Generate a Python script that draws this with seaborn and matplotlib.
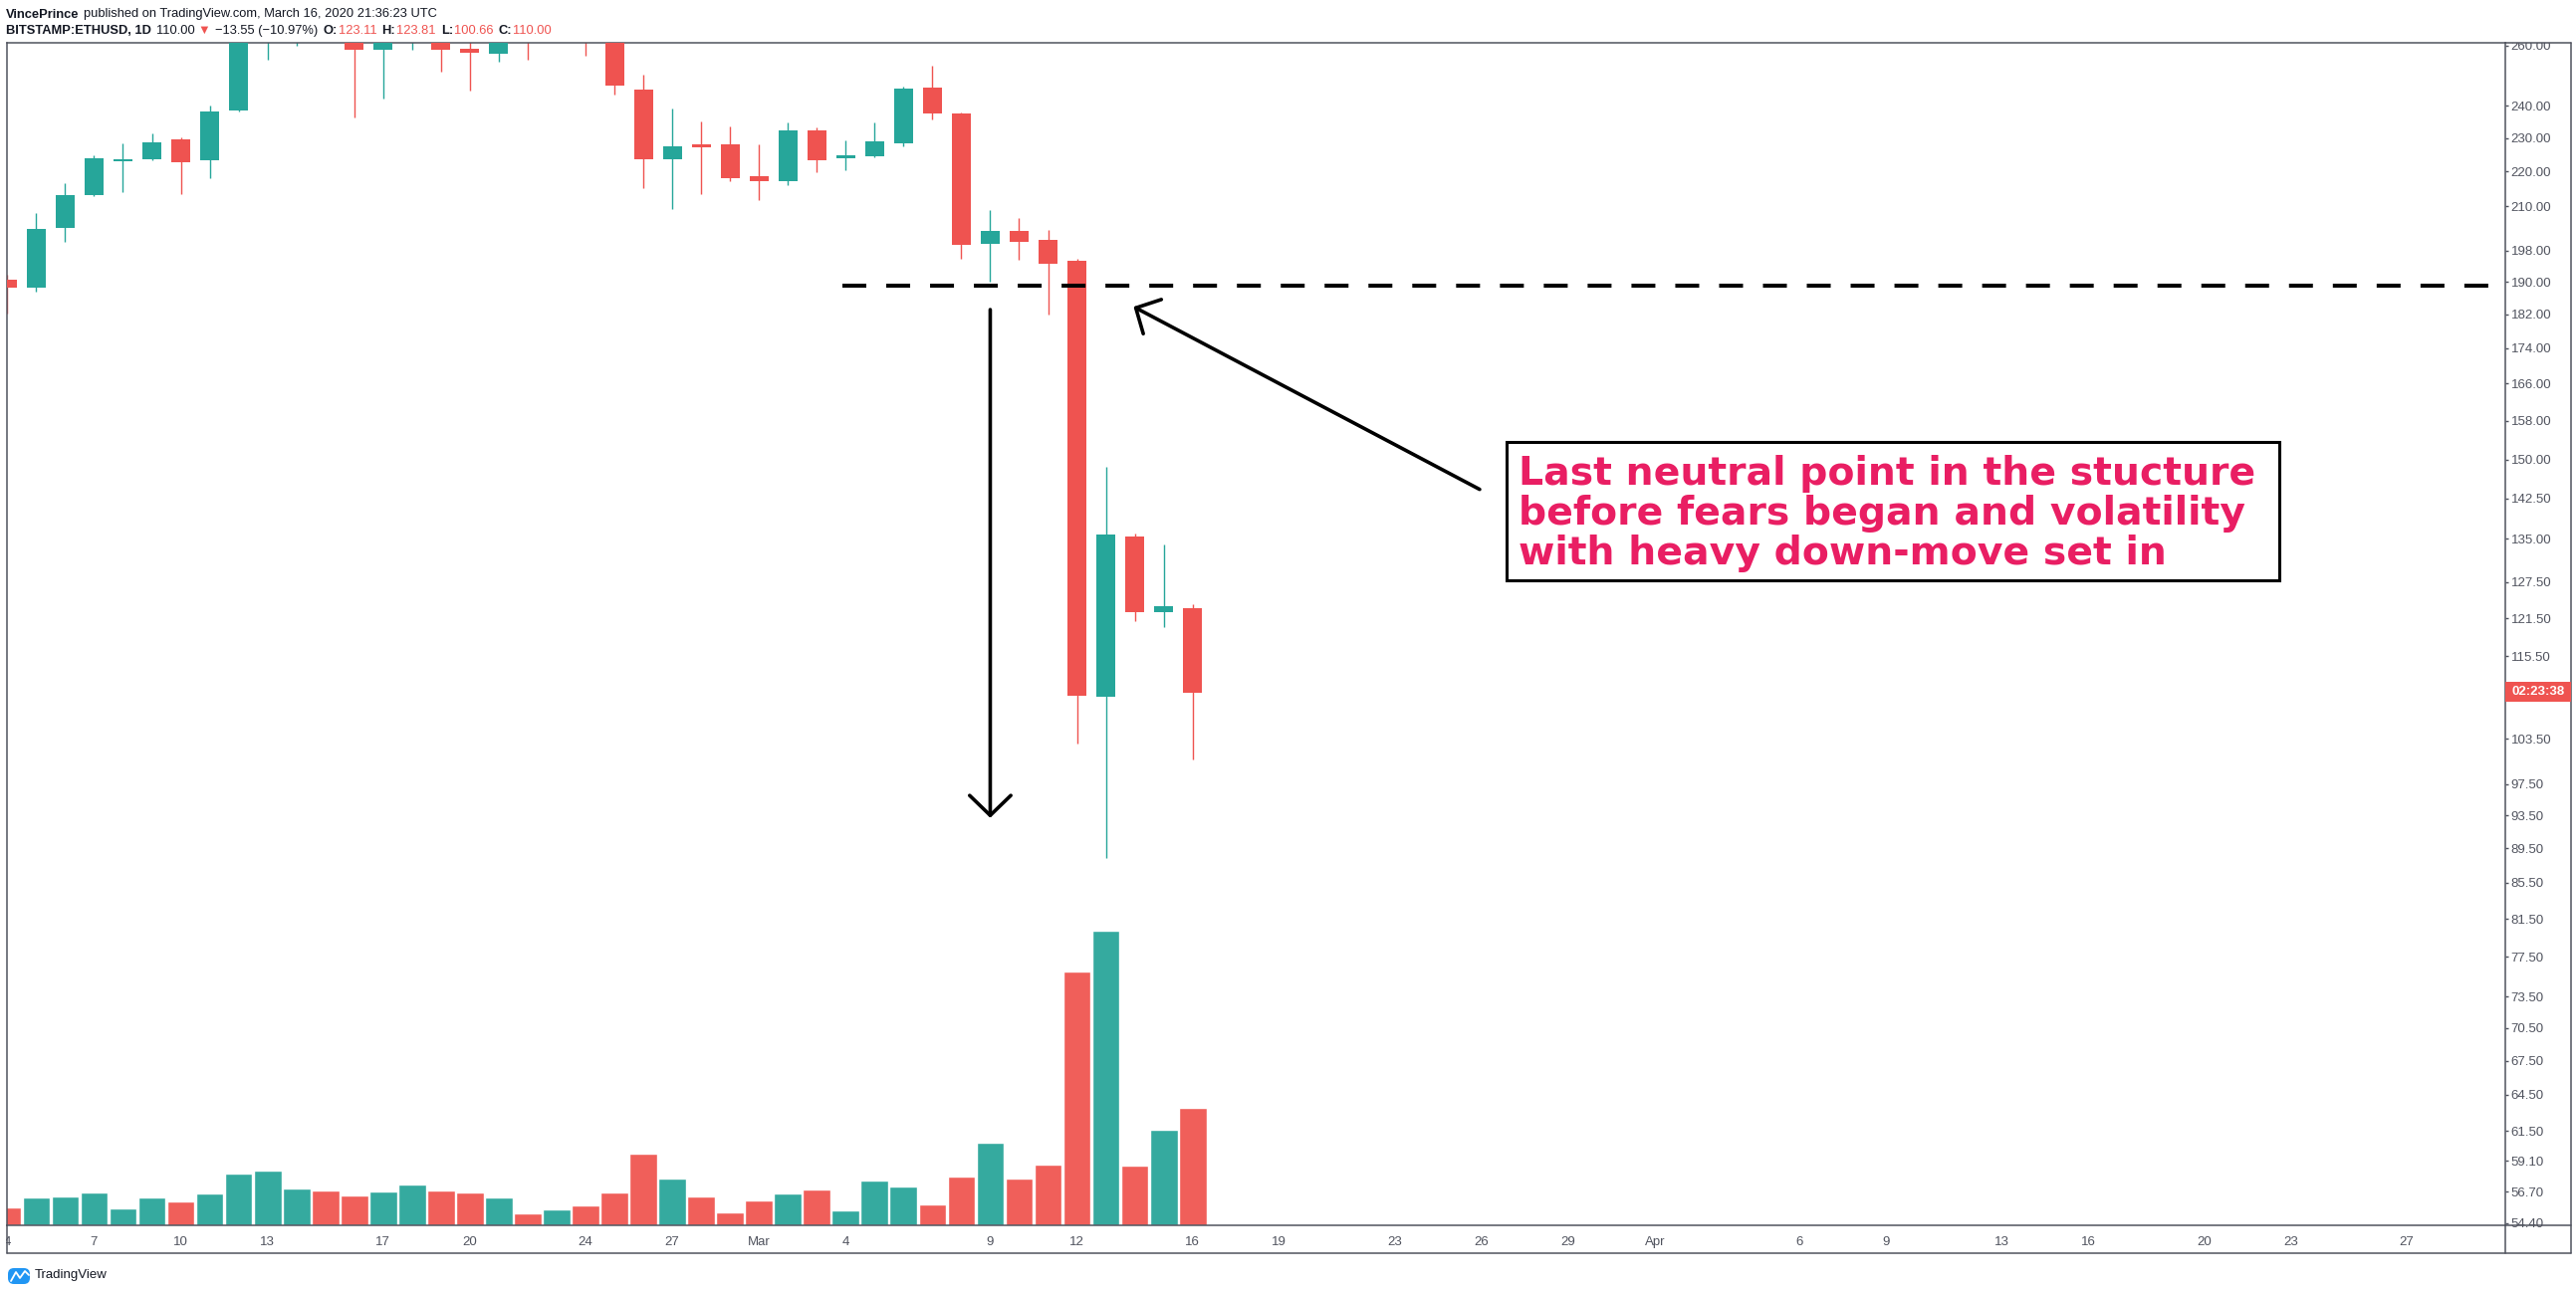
import numpy as np
import pandas as pd
import matplotlib
matplotlib.use("Agg")
import matplotlib.pyplot as plt
import matplotlib.dates as mdates
from matplotlib import font_manager
from matplotlib.patches import Rectangle, FancyBboxPatch
from matplotlib.lines import Line2D
from matplotlib.ticker import NullLocator
from matplotlib.transforms import IdentityTransform
import seaborn as sns

# ---- data: BITSTAMP:ETHUSD daily candles, Feb 4 - Mar 16 2020
dates = pd.date_range("2020-02-04", "2020-03-16", freq="D")
open_ = [190.5, 188.4, 204.1, 213.2, 223.1, 223.7, 229.6, 223.4, 238.7, 265.0,
         268.0, 284.0, 264.0, 258.7, 267.0, 281.0, 259.0, 257.4, 265.0, 262.0,
         274.0, 265.0, 245.3, 223.7, 228.1, 228.1, 218.6, 217.3, 232.4, 224.0,
         224.6, 228.5, 246.0, 237.7, 199.9, 203.3, 200.9, 195.4, 109.5, 135.5,
         122.5, 123.11]
high = [191.8, 208.2, 216.6, 224.8, 228.4, 231.4, 230.2, 240.2, 268.0, 276.0,
        287.0, 285.0, 266.0, 268.5, 285.0, 282.0, 263.0, 268.0, 266.0, 276.0,
        277.0, 266.0, 250.2, 239.2, 235.1, 233.6, 228.1, 234.8, 233.3, 229.3,
        234.8, 246.3, 253.2, 237.9, 209.0, 206.8, 203.6, 195.9, 148.6, 136.0,
        134.0, 123.81]
low = [182.2, 187.6, 200.4, 212.9, 213.9, 223.4, 213.6, 218.1, 238.3, 255.2,
       259.8, 262.5, 236.2, 242.5, 258.7, 251.3, 245.1, 254.5, 255.2, 261.8,
       256.7, 243.7, 215.3, 209.4, 213.6, 217.3, 211.9, 215.9, 219.9, 220.5,
       224.3, 227.6, 235.8, 196.0, 190.0, 195.7, 182.0, 102.9, 88.4, 121.0,
       120.1, 100.66]
close = [188.4, 203.8, 213.2, 223.9, 223.6, 228.7, 222.8, 238.3, 265.0, 268.0,
         284.0, 264.0, 258.7, 267.0, 281.0, 258.7, 257.7, 265.0, 262.0, 274.0,
         265.0, 246.7, 223.7, 227.5, 227.1, 217.9, 217.3, 232.4, 223.4, 224.8,
         229.0, 245.6, 237.7, 199.6, 203.3, 200.4, 194.7, 109.6, 135.8, 122.5,
         123.55, 110.00]
volume_k = [18, 28, 29, 33, 17, 28, 24, 32, 52, 55,
            37, 35, 30, 34, 41, 35, 33, 28, 12, 16,
            20, 33, 72, 47, 29, 13, 25, 32, 36, 15,
            45, 39, 21, 49, 83, 47, 61, 255, 296, 60,
            96, 118]

price_ticks = [260, 240, 230, 220, 210, 198, 190, 182, 174, 166, 158, 150,
               142.5, 135, 127.5, 121.5, 115.5, 103.5, 97.5, 93.5, 89.5, 85.5,
               81.5, 77.5, 73.5, 70.5, 67.5, 64.5, 61.5, 59.1, 56.7, 54.4]
date_ticks = ["2020-02-04", "2020-02-07", "2020-02-10", "2020-02-13", "2020-02-17",
              "2020-02-20", "2020-02-24", "2020-02-27", "2020-03-01", "2020-03-04",
              "2020-03-09", "2020-03-12", "2020-03-16", "2020-03-19", "2020-03-23",
              "2020-03-26", "2020-03-29", "2020-04-01", "2020-04-06", "2020-04-09",
              "2020-04-13", "2020-04-16", "2020-04-20", "2020-04-23", "2020-04-27"]
date_labels = ["4", "7", "10", "13", "17", "20", "24", "27", "Mar", "4", "9", "12",
               "16", "19", "23", "26", "29", "Apr", "6", "9", "13", "16", "20", "23", "27"]

level_price = 189.0
note_lines = ["Last neutral point in the stucture",
              "before fears began and volatility",
              "with heavy down-move set in"]

TEAL, RED = "#26a69a", "#ef5350"
TEAL_V, RED_V = "#35aa9f", "#f05f5a"
PINK = "#e91e63"
FRAME = "#50535e"
INK = "#131722"

sns.set_theme(style="white")
plt.rcParams["font.family"] = ["Liberation Sans", "DejaVu Sans"]

# header font: a narrow face if there is one, else the regular one a bit smaller
installed = {f.name for f in font_manager.fontManager.ttflist}
if "Liberation Sans Narrow" in installed:
    HEAD_FAMILY, HEAD_SIZE = ["Liberation Sans Narrow", "DejaVu Sans"], 11
else:
    HEAD_FAMILY, HEAD_SIZE = ["Liberation Sans", "DejaVu Sans"], 9.3

W, H = 2587, 1296
fig = plt.figure(figsize=(W / 100, H / 100), dpi=100)
fig.patch.set_facecolor("white")
PX = IdentityTransform()


def fig_rect(x0, y0, x1, y1):
    # pixel box (top-left origin) -> figure fraction
    return [x0 / W, 1 - y1 / H, (x1 - x0) / W, (y1 - y0) / H]


L_, T_, R_, B_ = 6.5, 43, 2516, 1231
ax_vol = fig.add_axes(fig_rect(L_, T_, R_, B_), zorder=0)
ax = fig.add_axes(fig_rect(L_, T_, R_, B_), zorder=1)
ax.patch.set_visible(False)

xnum = mdates.date2num(dates)
x0 = xnum[0]
xlim = (x0 - 0.03, x0 + 86.41)

# ---- volume (overlay at bottom of the price pane)
o, c, hi, lo = map(np.asarray, (open_, close, high, low))
up = c >= o
vol_df = pd.DataFrame({"x": xnum, "volume": volume_k,
                       "dir": np.where(up, "up", "down")})
sns.barplot(data=vol_df, x="x", y="volume", hue="dir",
            palette={"up": TEAL_V, "down": RED_V}, native_scale=True,
            width=0.955, dodge=False, errorbar=None, saturation=1,
            edgecolor="white", linewidth=1, legend=False, ax=ax_vol)
ax_vol.set_xlim(*xlim)
ax_vol.set_ylim(0, 1188)
ax_vol.set_axis_off()

# ---- candles
colors = np.where(up, TEAL, RED)
ax.vlines(xnum, lo, hi, colors=colors, linewidth=1.0, zorder=2)
ax.bar(xnum, np.abs(c - o), bottom=np.minimum(o, c), width=0.655,
       color=colors, linewidth=0, zorder=3)

ax.set_yscale("log")
ax.set_ylim(54.24, 261.0)
ax.set_xlim(*xlim)
ax.yaxis.tick_right()
ax.set_yticks(price_ticks)
ax.set_yticklabels([f"{v:.2f}" for v in price_ticks])
ax.yaxis.set_minor_locator(NullLocator())
ax.set_xticks(mdates.date2num(pd.to_datetime(date_ticks)))
ax.set_xticklabels(date_labels)
ax.xaxis.set_minor_locator(NullLocator())
ax.tick_params(axis="y", which="major", direction="out", length=2.5, width=1,
               color=FRAME, labelcolor=FRAME, labelsize=9.5, pad=1.5)
ax.tick_params(axis="x", which="major", direction="out", length=3, width=1,
               color=FRAME, labelcolor=FRAME, labelsize=9.5, pad=5)
ax.set_xlabel("")
ax.set_ylabel("")
ax.grid(False)
for side in ("left", "right", "top", "bottom"):
    ax.spines[side].set_visible(True)
    ax.spines[side].set_color(FRAME)
    ax.spines[side].set_linewidth(1.1)

# ---- drawings
ax.plot([x0 + 28.89, x0 + 95], [level_price, level_price], color="black",
        lw=2.9, ls=(0, (5.96, 4.97)), dash_capstyle="butt", zorder=5)

ax.annotate("", xy=(xnum[34], 93.2), xytext=(xnum[34], 183.1),
            arrowprops=dict(arrowstyle="->,head_length=14.4,head_width=14.9",
                            mutation_scale=1, lw=2.6, color="black",
                            shrinkA=0, shrinkB=0), zorder=5)
ax.annotate("", xy=(x0 + 38.96, 183.8), xytext=(x0 + 50.93, 144.2),
            arrowprops=dict(arrowstyle="->,head_length=13.5,head_width=14",
                            mutation_scale=1, lw=2.6, color="black",
                            shrinkA=0, shrinkB=0), zorder=5)

ax.add_patch(Rectangle((x0 + 51.86, 127.8), 78.60 - 51.86, 153.6 - 127.8,
                       facecolor="white", edgecolor="black", lw=2.2, zorder=5))
renderer = fig.canvas.get_renderer()
note_prices = [145.1, 137.6, 130.5]
probe = ax.text(0, 100, note_lines[0], fontsize=27, fontweight="bold",
                family="DejaVu Sans")
fs = 27 * 740 / probe.get_window_extent(renderer).width
probe.remove()
for line, yp in zip(note_lines, note_prices):
    ax.text(x0 + 52.27, yp, line, color=PINK, fontsize=fs, fontweight="bold",
            family="DejaVu Sans", ha="left", va="baseline", zorder=6)

# ---- frame outside the pane
def px_line(xs, ys, **kw):
    fig.add_artist(Line2D(xs, [H - y for y in ys], transform=PX,
                          color=FRAME, lw=1.1, zorder=4, **kw))


fig.add_artist(Rectangle((R_ + 1, H - 42.5), 66, 42.5, transform=PX,
                         facecolor="white", edgecolor="none", zorder=3))
fig.add_artist(Rectangle((0, H - 1258), L_ - 0.5, 26, transform=PX,
                         facecolor="white", edgecolor="none", zorder=3))
px_line([R_, 2582], [T_, T_])
px_line([2582, 2582], [T_, 1259])
px_line([R_, 2582], [B_, B_])
px_line([L_, 2582], [1259, 1259])
px_line([L_, L_], [B_, 1259])
px_line([R_, R_], [B_, 1259])

# countdown tag on the price scale
fig.add_artist(Rectangle((R_, H - 705), 2582 - R_, 20, transform=PX,
                         facecolor=RED, edgecolor="none", zorder=5))
fig.text((R_ + 2582) / 2, H - 695, "02:23:38", transform=PX, color="white",
         fontsize=9.5, fontweight="bold", ha="center", va="center", zorder=6)

# ---- header
def draw_runs(x, y_base, runs, size=HEAD_SIZE):
    for text, color, weight, gap in runs:
        t = fig.text(x, H - y_base, text, transform=PX, color=color,
                     fontweight=weight, fontsize=size, family=HEAD_FAMILY,
                     ha="left", va="baseline")
        x = t.get_window_extent(renderer).x1 + gap


draw_runs(6, 17.5, [("VincePrince", INK, "bold", 4),
                    ("published on TradingView.com, March 16, 2020 21:36:23 UTC",
                     INK, "normal", 0)])
draw_runs(6, 34.3, [("BITSTAMP:ETHUSD, 1D", INK, "bold", 5),
                    ("110.00", INK, "normal", 3),
                    ("\u25bc", RED, "normal", 5),
                    ("\u221213.55 (\u221210.97%)", INK, "normal", 5),
                    ("O:", INK, "bold", 1), ("123.11", RED, "normal", 5),
                    ("H:", INK, "bold", 1), ("123.81", RED, "normal", 5),
                    ("L:", INK, "bold", 1), ("100.66", RED, "normal", 5),
                    ("C:", INK, "bold", 1), ("110.00", RED, "normal", 0)])

# ---- TradingView mark
fig.add_artist(FancyBboxPatch((8, H - 1290), 22, 16, boxstyle="round,pad=0,rounding_size=6",
                              transform=PX, facecolor="#2196f3", edgecolor="none", zorder=5))
fig.add_artist(Line2D([11, 16, 20, 25, 29], [H - 1287, H - 1278, H - 1284, H - 1277, H - 1281],
                      transform=PX, color="white", lw=1.3, zorder=6))
fig.text(35, H - 1284, "TradingView", transform=PX, color=INK, fontsize=9.5,
         family=HEAD_FAMILY, ha="left", va="baseline")

fig.savefig("out.png", dpi=100)
